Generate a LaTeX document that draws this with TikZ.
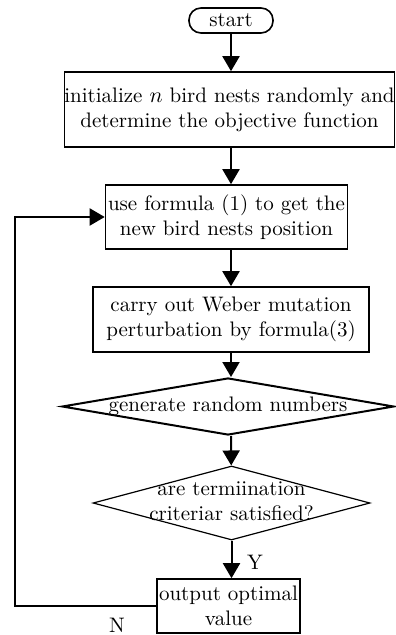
\documentclass[tikz,border=0pt]{standalone}
\usetikzlibrary{arrows.meta,shapes.geometric}
\begin{document}
\begin{tikzpicture}[x=0.5pt, y=-0.5pt, >={Triangle[width=8.5pt,length=7.5pt]}, line width=0.8pt, font=\fontsize{10.5}{12.6}\selectfont]
\useasboundingbox (0,0) rectangle (395,635);
\node[draw, rectangle, rounded corners=6pt, minimum width=42pt, minimum height=12.5pt, inner sep=0pt](A) at (231,20.5){start};
\node[draw, rectangle, minimum width=164.5pt, minimum height=37.5pt, inner sep=0pt, align=center](B) at (229.5,109.5){initialize $n$ bird nests randomly and\\determine the objective function};
\node[draw, rectangle, minimum width=121pt, minimum height=32pt, inner sep=0pt, align=center](C) at (226.5,217){use formula (1) to get the\\new bird nests position};
\node[draw, rectangle, minimum width=138pt, minimum height=32.5pt, inner sep=0pt, align=center](D) at (231,319.5){carry out Weber mutation\\perturbation by formula(3)};
\node[draw, diamond, line width=1pt, minimum width=166pt, minimum height=28.5pt, inner sep=0pt](E) at (228,406.5){\makebox[0pt]{generate random numbers}};
\node[draw, diamond, line width=0.6pt, minimum width=138.5pt, minimum height=37pt, inner sep=0pt](F) at (231.5,503){\makebox[0pt]{\begin{tabular}{@{}c@{}}are termiination\\criteriar satisfied?\end{tabular}}};
\node[draw, rectangle, minimum width=71.5pt, minimum height=27pt, inner sep=0pt, align=center](G) at (228.5,606){output optimal\\value};
\coordinate(H) at (15,606);
\node(Y) at (255,562){Y};
\node(N) at (117,625){N};
\draw[->, line width=1pt](A)--(A|-B.north);
\draw[->, line width=1pt](B.south-|A)--(C.north-|A);
\draw[->, line width=1pt](C.south-|A)--(D);
\draw[->, line width=1pt](D)--(D|-E.north);
\draw[->, line width=1pt](E.south-|D)--(F);
\draw[->, line width=1pt](F)--(F|-G.north);
\draw[->, line width=1pt](G.west)--(H)|-(C.west);
\end{tikzpicture}
\end{document}
